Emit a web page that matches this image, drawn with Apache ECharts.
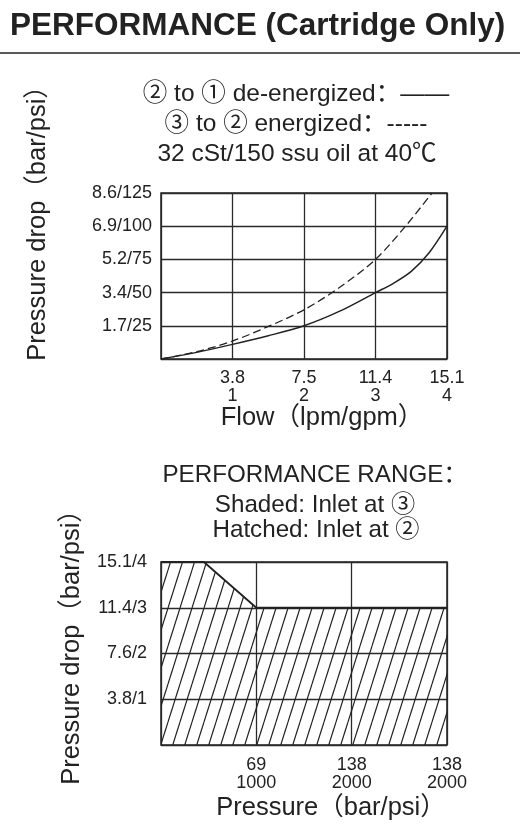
<!DOCTYPE html>
<html>
<head>
<meta charset="utf-8">
<script src="https://cdn.jsdelivr.net/npm/echarts@6/dist/echarts.min.js"></script>
<style>
  html, body { margin: 0; padding: 0; background: #fff; }
  #chart { width: 524px; height: 832px; }
</style>
</head>
<body>
<div id="chart"></div>
<script>
// top chart: flow vs pressure drop
const flowLpmTicks = ["", "3.8", "7.5", "11.4", "15.1"];
const flowGpmTicks = ["", "1", "2", "3", "4"];
const dropTicksTop = ["", "1.7/25", "3.4/50", "5.2/75", "6.9/100", "8.6/125"];

// (gpm, psi)
const deEnergizedFlow = [0, 0.5, 1, 1.5, 2, 2.5, 3, 3.25, 3.5, 3.75, 4];
const deEnergizedDrop = [0, 5, 11, 17.5, 25, 36, 50, 57, 66, 80, 100];
const energizedFlow = [0, 0.5, 1, 1.5, 2, 2.5, 3, 3.42, 3.79];
const energizedDrop = [0, 5.5, 13.5, 24.5, 37, 54, 75, 100, 125];

// bottom chart: performance range
const pressureBarTicks = ["", "69", "138", "138"];
const pressurePsiTicks = ["", "1000", "2000", "2000"];
const dropTicksBottom = ["", "3.8/1", "7.6/2", "11.4/3", "15.1/4"];
const rangePressure = [0, 450, 1000, 3000];
const rangeFlow = [4, 4, 3, 3];

const FONT = "'Liberation Sans', 'Noto Sans CJK SC', sans-serif";
const INK = "#222";

function zip(xs, ys) {
  return xs.map((x, i) => [x, ys[i]]);
}

// diagonal hatch tile, lines running up to the right
function hatchTile() {
  const w = 12, h = 38;
  const c = document.createElement("canvas");
  c.width = w;
  c.height = h;
  const ctx = c.getContext("2d");
  ctx.strokeStyle = INK;
  ctx.lineWidth = 1.2;
  [-w, 0, w].forEach((dx) => {
    ctx.beginPath();
    ctx.moveTo(dx, h);
    ctx.lineTo(dx + w, 0);
    ctx.stroke();
  });
  return c;
}

const chart_box = document.getElementById("chart");
const chart = echarts.init(chart_box);

const splitLine = { show: true, lineStyle: { color: "#2a2a2a", width: 1.3 } };
const labelStyle = { color: INK, fontFamily: FONT, fontSize: 18 };

function txt(text, x, y, size, extra) {
  return Object.assign({
    type: "text",
    x: x,
    y: y,
    style: {
      text: text,
      fill: INK,
      font: `${size}px ${FONT}`,
      align: "center",
      verticalAlign: "middle",
    },
  }, extra || {});
}

chart.setOption({
  backgroundColor: "#fff",
  animation: false,
  graphic: [
    {
      type: "text",
      x: 10,
      y: 26,
      style: {
        text: "PERFORMANCE (Cartridge Only)",
        fill: INK,
        font: `bold 31.5px ${FONT}`,
        align: "left",
        verticalAlign: "middle",
      },
    },
    {
      type: "line",
      shape: { x1: 0, y1: 53, x2: 520, y2: 53 },
      style: { stroke: INK, lineWidth: 1.5 },
    },
    txt("② to ① de-energized：——", 296, 94, 24.5),
    txt("③ to ② energized：-----", 296, 124, 24.5),
    txt("32 cSt/150 ssu oil at 40℃", 297, 154, 24.5),
    txt("Pressure drop（bar/psi）", 38, 217, 25.5, { rotation: Math.PI / 2 }),
    txt("Flow（lpm/gpm）", 322, 418, 25.5),
    txt("PERFORMANCE RANGE：", 315, 475, 24.2),
    txt("Shaded: Inlet at ③", 315, 505, 24.2),
    txt("Hatched: Inlet at ②", 316, 530, 24.2),
    txt("Pressure drop（bar/psi）", 72, 641, 25.5, { rotation: Math.PI / 2 }),
    txt("Pressure（bar/psi）", 331, 808, 25.5),
  ],
  grid: [
    { left: 161, top: 193, width: 286, height: 166, show: true, borderColor: INK, borderWidth: 1.5 },
    { left: 161, top: 562, width: 286, height: 183, show: true, borderColor: INK, borderWidth: 1.5 },
  ],
  xAxis: [
    {
      gridIndex: 0,
      type: "value",
      min: 0,
      max: 4,
      interval: 1,
      axisLine: { show: false },
      axisTick: { show: false },
      splitLine: splitLine,
      axisLabel: Object.assign({}, labelStyle, {
        margin: 10,
        lineHeight: 18,
        formatter: (v) => {
          const i = Math.round(v);
          return i === 0 ? "" : flowLpmTicks[i] + "\n" + flowGpmTicks[i];
        },
      }),
    },
    {
      gridIndex: 1,
      type: "value",
      min: 0,
      max: 3000,
      interval: 1000,
      axisLine: { show: false },
      axisTick: { show: false },
      splitLine: splitLine,
      axisLabel: Object.assign({}, labelStyle, {
        margin: 11,
        lineHeight: 18,
        formatter: (v) => {
          const i = Math.round(v / 1000);
          return i === 0 ? "" : pressureBarTicks[i] + "\n" + pressurePsiTicks[i];
        },
      }),
    },
  ],
  yAxis: [
    {
      gridIndex: 0,
      type: "value",
      min: 0,
      max: 125,
      interval: 25,
      axisLine: { show: false },
      axisTick: { show: false },
      splitLine: splitLine,
      axisLabel: Object.assign({}, labelStyle, {
        margin: 9,
        formatter: (v) => dropTicksTop[Math.round(v / 25)],
      }),
    },
    {
      gridIndex: 1,
      type: "value",
      min: 0,
      max: 4,
      interval: 1,
      axisLine: { show: false },
      axisTick: { show: false },
      splitLine: splitLine,
      axisLabel: Object.assign({}, labelStyle, {
        margin: 14,
        formatter: (v) => dropTicksBottom[Math.round(v)],
      }),
    },
  ],
  series: [
    {
      name: "2 to 1 de-energized",
      type: "line",
      xAxisIndex: 0,
      yAxisIndex: 0,
      smooth: 0.3,
      showSymbol: false,
      data: zip(deEnergizedFlow, deEnergizedDrop),
      lineStyle: { color: INK, width: 1.5 },
    },
    {
      name: "3 to 2 energized",
      type: "line",
      xAxisIndex: 0,
      yAxisIndex: 0,
      smooth: 0.3,
      showSymbol: false,
      data: zip(energizedFlow, energizedDrop),
      lineStyle: { color: INK, width: 1.3, type: [8, 4] },
    },
    {
      name: "Performance range",
      type: "line",
      xAxisIndex: 1,
      yAxisIndex: 1,
      showSymbol: false,
      data: zip(rangePressure, rangeFlow),
      lineStyle: { color: INK, width: 1.8 },
      areaStyle: { color: { image: hatchTile(), repeat: "repeat" }, opacity: 1 },
    },
  ],
});

window.addEventListener("resize", () => chart.resize());
</script>
</body>
</html>
